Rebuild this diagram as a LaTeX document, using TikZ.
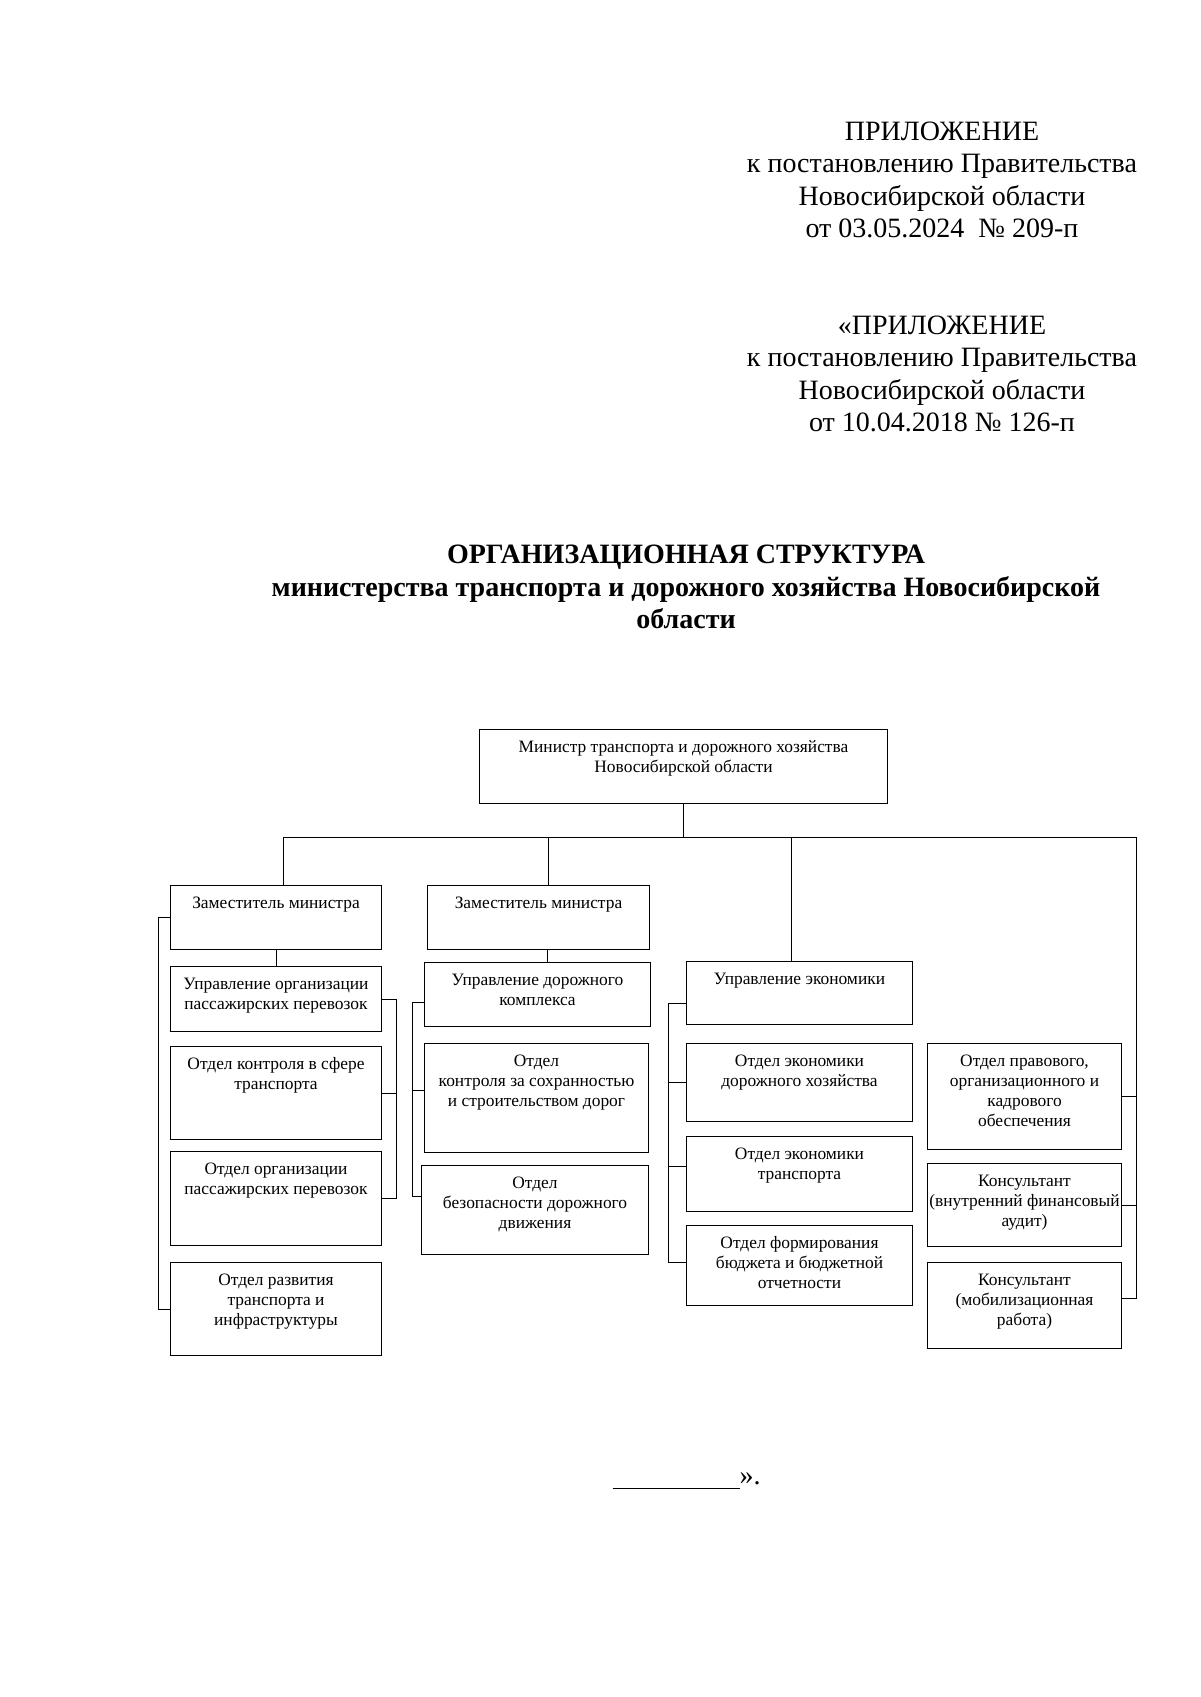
\documentclass[tikz,border=0pt]{standalone}
\usepackage{fontspec}
\setmainfont{Liberation Serif}

\newcommand{\unittxt}[1]{\begin{tabular}[t]{@{}c@{}}#1\end{tabular}}

\begin{document}
\begin{tikzpicture}[
    x=0.5pt, y=-0.5pt,
    line width=0.5pt,
    unit/.style={rectangle, draw, anchor=north west, inner sep=0pt, text height=11.6pt, font=\fontsize{8.7}{10}\selectfont},
    head/.style={align=center, font=\fontsize{14}{16.2}\selectfont},
    heading/.style={align=center, font=\bfseries\fontsize{14}{16.2}\selectfont}
]
    \useasboundingbox (0,0) rectangle (1200,1697);
    \fill[white] (0,0) rectangle (1200,1697);

    % header
    \node[head] (app1) at (942,180) {ПРИЛОЖЕНИЕ\\к постановлению Правительства\\Новосибирской области\\от 03.05.2024~~№ 209-п};
    \node[head] (app2) at (942,374) {«ПРИЛОЖЕНИЕ\\к постановлению Правительства\\Новосибирской области\\от 10.04.2018 № 126-п};
    \node[heading] (title) at (686,587) {ОРГАНИЗАЦИОННАЯ СТРУКТУРА\\министерства транспорта и дорожного хозяйства Новосибирской\\области};

    % top level
    \node[unit, minimum width=204pt, text depth=25.4pt] (minister) at (479,729) {\unittxt{Министр транспорта и дорожного хозяйства\\Новосибирской области}};
    \node[unit, minimum width=105.5pt, text depth=20.4pt] (deputy1) at (170,885) {\unittxt{Заместитель министра}};
    \node[unit, minimum width=111pt, text depth=20.4pt] (deputy2) at (427,885) {\unittxt{Заместитель министра}};
    \node[unit, minimum width=113pt, text depth=19.9pt] (economy) at (686,961) {\unittxt{Управление экономики}};

    % first deputy
    \node[unit, minimum width=105.5pt, text depth=20.9pt] (passmgmt) at (170,966) {\unittxt{Управление организации\\пассажирских перевозок}};
    \node[unit, minimum width=105.5pt, text depth=34.9pt] (control) at (170,1046) {\unittxt{Отдел контроля в сфере\\транспорта}};
    \node[unit, minimum width=105.5pt, text depth=35.4pt] (passdept) at (170,1151) {\unittxt{Отдел организации\\пассажирских перевозок}};
    \node[unit, minimum width=105.5pt, text depth=34.9pt] (transdev) at (170,1262) {\unittxt{Отдел развития\\транспорта и\\инфраструктуры}};

    % second deputy
    \node[unit, minimum width=113pt, text depth=20.4pt] (roads) at (424,962) {\unittxt{Управление дорожного\\комплекса}};
    \node[unit, minimum width=112pt, text depth=42.9pt] (preserve) at (424,1043) {\unittxt{Отдел\\контроля за сохранностью\\и строительством дорог}};
    \node[unit, minimum width=113.5pt, text depth=32.9pt] (safety) at (421,1165) {\unittxt{Отдел\\безопасности дорожного\\движения}};

    % economy
    \node[unit, minimum width=113pt, text depth=27.4pt] (roadecon) at (686,1043) {\unittxt{Отдел экономики\\дорожного хозяйства}};
    \node[unit, minimum width=113pt, text depth=25.9pt] (transecon) at (686,1136) {\unittxt{Отдел экономики\\транспорта}};
    \node[unit, minimum width=113pt, text depth=28.4pt] (budget) at (686,1225) {\unittxt{Отдел формирования\\бюджета и бюджетной\\отчетности}};

    % minister's own units
    \node[unit, minimum width=97pt, text depth=41.4pt] (legal) at (927,1043) {\unittxt{Отдел правового,\\организационного и\\кадрового\\обеспечения}};
    \node[unit, minimum width=97pt, text depth=29.9pt] (consaudit) at (927,1163) {\unittxt{Консультант\\(внутренний финансовый\\аудит)}};
    \node[unit, minimum width=97pt, text depth=31.4pt] (consmob) at (927,1262) {\unittxt{Консультант\\(мобилизационная\\работа)}};

    % bus
    \coordinate (bus-l) at (283,837);
    \coordinate (bus-d2) at (548,837);
    \coordinate (bus-ec) at (791,837);
    \coordinate (bus-r) at (1136,837);
    \draw (minister.south) -- (minister.south |- bus-l);
    \draw (bus-l) -- (bus-r);
    \draw (bus-l) -- (bus-l |- deputy1.north);
    \draw (bus-d2) -- (bus-d2 |- deputy2.north);
    \draw (bus-ec) -- (bus-ec |- economy.north);
    \draw (bus-r) |- ([yshift=3.5pt]consmob.east);
    \draw (legal.east) -- (legal.east -| bus-r);
    \draw (consaudit.east) -- (consaudit.east -| bus-r);

    % brackets
    \coordinate (br-a) at (158,915);
    \coordinate (br-b) at (396,1000);
    \coordinate (br-c) at (412,1000);
    \coordinate (br-d) at (668,1000);
    \draw (deputy1.south) -- (passmgmt.north);
    \draw (deputy1.west) -- (deputy1.west -| br-a) |- (transdev.west);
    \draw (passmgmt.east) -- (passmgmt.east -| br-b) |- (passdept.east);
    \draw (control.east) -- (control.east -| br-b);
    \draw ([xshift=4.5pt]deputy2.south) -- ([xshift=4.5pt]deputy2.south |- roads.north);
    \draw ([yshift=-4pt]roads.west) -- ([yshift=-4pt]roads.west -| br-c) |- ([yshift=6.75pt]safety.west);
    \draw ([yshift=3.75pt]preserve.west) -- ([yshift=3.75pt]preserve.west -| br-c);
    \draw ([yshift=-5pt]economy.west) -- ([yshift=-5pt]economy.west -| br-d) |- ([yshift=1.5pt]budget.west);
    \draw (roadecon.west) -- (roadecon.west -| br-d);
    \draw ([yshift=4pt]transecon.west) -- ([yshift=4pt]transecon.west -| br-d);

    % closing mark
    \node[anchor=base west, inner sep=0pt, font=\fontsize{14}{16.2}\selectfont] (closing) at (612,1484) {\rule[-2.5pt]{63.5pt}{0.5pt}».};
\end{tikzpicture}
\end{document}
